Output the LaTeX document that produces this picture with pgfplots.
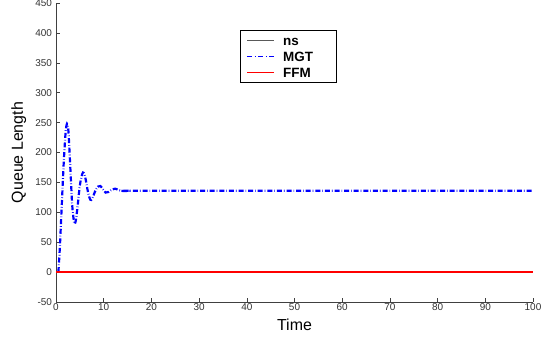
\documentclass[border=0pt]{standalone}
\usepackage{fontspec}
\setmainfont{Liberation Sans}
\usepackage{pgfplots}
\pgfplotsset{compat=1.18}
\begin{document}
\begin{tikzpicture}
\useasboundingbox (0,0) rectangle (547bp,339bp);
\begin{axis}[
  at={(56bp,37bp)}, anchor=south west,
  scale only axis, width=477bp, height=299bp,
  xmin=0, xmax=100, ymin=-50, ymax=450,
  xtick={0,10,...,100}, ytick={-50,0,...,450},
  axis x line*=bottom, axis y line*=left,
  axis line style={-, black!75, line width=0.6pt},
  tick align=inside, major tick length=4bp,
  tick style={black!75, line width=0.6pt},
  /pgf/number format/assume math mode=true,
  ticklabel style={font=\fontsize{10}{11}\selectfont, text=black!80},
  xticklabel style={yshift=1.5bp},
  yticklabel style={xshift=-0.5bp},
  xlabel={Time}, ylabel={Queue Length},
  label style={font=\fontsize{16}{18}\selectfont},
  xlabel style={at={(axis description cs:0.5,-0.077)}, anchor=center},
  ylabel style={at={(axis description cs:-0.078,0.5)}, anchor=center},
  legend style={at={(axis description cs:0.386,0.91)}, anchor=north west,
    font=\fontsize{13.5}{14}\selectfont\bfseries, draw=black, line width=0.8pt,
    inner xsep=6bp, inner ysep=2bp, row sep=0bp,
    nodes={text height=9.5bp, text depth=0bp, inner ysep=3.25bp, inner xsep=2bp},
    /tikz/every odd column/.append style={column sep=6bp}},
  legend cell align=left,
  legend image code/.code={\draw[#1] (0bp,0bp) -- (27bp,0bp);},
]
\addlegendimage{black!65, line width=0.7pt}
\addlegendentry{\makebox[45bp][l]{ns}}
\addplot[blue, line width=2.2pt, dash pattern=on 5bp off 2bp on 0.6bp off 2bp, smooth, tension=0.5,
  forget plot] coordinates {
(0.5,0) (0.8,40) (1.2,110) (1.6,180) (2.0,232) (2.3,248) (2.6,236) (3.0,175) (3.4,112) (3.8,83) (4.1,84) (4.5,108) (5.0,145) (5.5,164) (5.8,166) (6.2,156) (6.7,134) (7.2,121) (7.6,123) (8.2,135) (8.8,143) (9.3,144) (9.8,139) (10.4,133) (11.0,134) (11.7,138) (12.4,139.5) (13.2,137) (14.2,135.5) (15.5,136) (20,136) (100,136)
};
\addlegendimage{blue, line width=1pt, dash pattern=on 5bp off 2.5bp on 1bp off 2.5bp}
\addlegendentry{MGT}
\addplot[red, line width=1.6pt, forget plot] coordinates {(0,0) (100,0)};
\addlegendimage{red, line width=1.6pt}
\addlegendentry{FFM}
\end{axis}
\end{tikzpicture}
\end{document}
